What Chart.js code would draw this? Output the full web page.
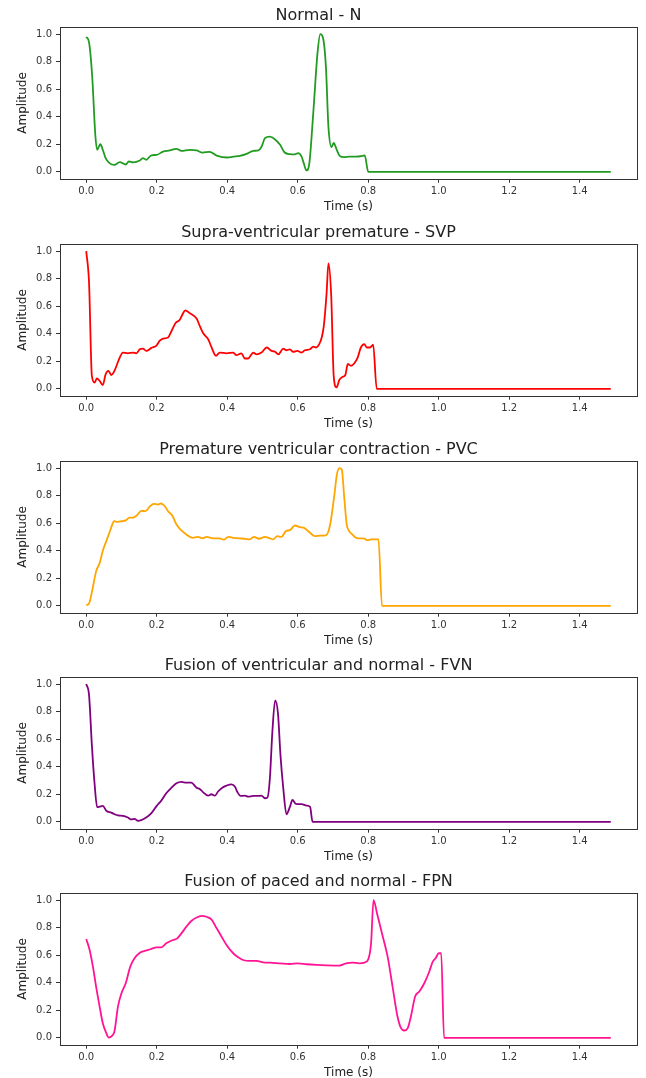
<!doctype html>
<html lang="en">

<head>
	<meta charset="utf-8" name="viewport" content="width=device-width, initial-scale=1">
	<title>Heartbeat classes</title>
	<style>
		* {
			margin: 0;
			padding: 0;
		}

		body {
			width: 646px;
			height: 1078px;
			overflow: hidden;
			background: white;
			position: relative;
			font-family: "DejaVu Sans", sans-serif;
		}

		.chartBox {
			position: absolute;
			left: 0;
			width: 646px;
			height: 216px;
		}
	</style>
</head>

<body>
	<div class="chartBox" style="top: 0px;"><canvas id="chartN"></canvas></div>
	<div class="chartBox" style="top: 217px;"><canvas id="chartSVP"></canvas></div>
	<div class="chartBox" style="top: 434px;"><canvas id="chartPVC"></canvas></div>
	<div class="chartBox" style="top: 650px;"><canvas id="chartFVN"></canvas></div>
	<div class="chartBox" style="top: 866px;"><canvas id="chartFPN"></canvas></div>

	<script src="https://cdn.jsdelivr.net/npm/chart.js"></script>

	<script>
		/*=====Data=====*/
		const xTicks = [0.0, 0.2, 0.4, 0.6, 0.8, 1.0, 1.2, 1.4];
		const yTicks = [0.0, 0.2, 0.4, 0.6, 0.8, 1.0];

		const nTime = [0, 0.008, 0.017, 0.026, 0.031, 0.04, 0.047, 0.055, 0.066, 0.08, 0.095, 0.112, 0.121, 0.133, 0.152, 0.161, 0.17, 0.185, 0.2, 0.218, 0.237, 0.256, 0.27, 0.294, 0.313, 0.33, 0.35, 0.37, 0.4, 0.417, 0.436, 0.455, 0.474, 0.488, 0.497, 0.507, 0.521, 0.535, 0.55, 0.563, 0.578, 0.592, 0.601, 0.611, 0.617, 0.625, 0.633, 0.644, 0.656, 0.664, 0.672, 0.68, 0.687, 0.696, 0.702, 0.71, 0.719, 0.732, 0.746, 0.765, 0.784, 0.79, 0.8, 1.488];
		const nAmp = [0.98, 0.94, 0.69, 0.26, 0.16, 0.20, 0.16, 0.10, 0.063, 0.05, 0.07, 0.053, 0.075, 0.068, 0.082, 0.10, 0.087, 0.12, 0.123, 0.147, 0.155, 0.167, 0.152, 0.16, 0.155, 0.14, 0.145, 0.118, 0.104, 0.11, 0.116, 0.13, 0.152, 0.155, 0.18, 0.244, 0.256, 0.237, 0.196, 0.14, 0.128, 0.126, 0.135, 0.11, 0.063, 0.01, 0.063, 0.425, 0.86, 1.0, 0.97, 0.76, 0.33, 0.18, 0.21, 0.164, 0.116, 0.106, 0.11, 0.11, 0.116, 0.12, 0, 0];

		const svpTime = [0, 0.008, 0.016, 0.024, 0.03, 0.038, 0.047, 0.055, 0.063, 0.071, 0.08, 0.095, 0.104, 0.118, 0.133, 0.142, 0.152, 0.161, 0.17, 0.185, 0.2, 0.208, 0.218, 0.232, 0.242, 0.254, 0.265, 0.273, 0.281, 0.294, 0.313, 0.322, 0.332, 0.346, 0.355, 0.368, 0.379, 0.398, 0.417, 0.426, 0.44, 0.45, 0.459, 0.474, 0.483, 0.497, 0.512, 0.526, 0.535, 0.545, 0.559, 0.568, 0.578, 0.587, 0.599, 0.611, 0.62, 0.635, 0.644, 0.652, 0.661, 0.668, 0.674, 0.682, 0.687, 0.695, 0.702, 0.71, 0.718, 0.727, 0.735, 0.742, 0.751, 0.76, 0.77, 0.779, 0.789, 0.796, 0.805, 0.814, 0.824, 1.488];
		const svpAmp = [1.0, 0.77, 0.094, 0.046, 0.075, 0.058, 0.027, 0.106, 0.13, 0.10, 0.13, 0.227, 0.263, 0.258, 0.263, 0.258, 0.287, 0.292, 0.275, 0.297, 0.316, 0.348, 0.365, 0.372, 0.42, 0.48, 0.50, 0.54, 0.57, 0.548, 0.51, 0.457, 0.403, 0.36, 0.304, 0.24, 0.263, 0.258, 0.263, 0.244, 0.258, 0.22, 0.22, 0.263, 0.25, 0.263, 0.30, 0.275, 0.27, 0.25, 0.292, 0.28, 0.287, 0.268, 0.275, 0.263, 0.28, 0.287, 0.307, 0.30, 0.324, 0.372, 0.457, 0.70, 0.91, 0.674, 0.094, 0.01, 0.065, 0.087, 0.10, 0.18, 0.167, 0.184, 0.227, 0.30, 0.324, 0.30, 0.30, 0.32, 0, 0];

		const pvcTime = [0, 0.008, 0.017, 0.028, 0.038, 0.047, 0.057, 0.069, 0.079, 0.09, 0.1, 0.112, 0.123, 0.133, 0.144, 0.156, 0.168, 0.18, 0.191, 0.204, 0.211, 0.223, 0.232, 0.244, 0.256, 0.27, 0.284, 0.301, 0.317, 0.33, 0.341, 0.36, 0.379, 0.39, 0.403, 0.417, 0.434, 0.45, 0.464, 0.476, 0.49, 0.507, 0.521, 0.53, 0.542, 0.554, 0.566, 0.578, 0.592, 0.606, 0.618, 0.63, 0.649, 0.663, 0.68, 0.692, 0.704, 0.711, 0.718, 0.725, 0.732, 0.739, 0.746, 0.755, 0.765, 0.774, 0.789, 0.798, 0.808, 0.829, 0.839, 1.488];
		const pvcAmp = [0.005, 0.017, 0.11, 0.25, 0.31, 0.40, 0.47, 0.554, 0.614, 0.61, 0.614, 0.62, 0.64, 0.64, 0.658, 0.69, 0.687, 0.72, 0.74, 0.735, 0.743, 0.723, 0.687, 0.655, 0.59, 0.547, 0.518, 0.494, 0.50, 0.49, 0.50, 0.49, 0.49, 0.48, 0.50, 0.494, 0.49, 0.487, 0.482, 0.50, 0.487, 0.50, 0.49, 0.482, 0.506, 0.50, 0.542, 0.55, 0.583, 0.571, 0.566, 0.542, 0.506, 0.51, 0.512, 0.59, 0.807, 0.952, 1.0, 0.988, 0.783, 0.59, 0.542, 0.518, 0.494, 0.49, 0.487, 0.477, 0.482, 0.482, 0, 0];

		const fvnTime = [0, 0.008, 0.016, 0.024, 0.031, 0.038, 0.047, 0.057, 0.071, 0.08, 0.09, 0.104, 0.118, 0.128, 0.137, 0.147, 0.156, 0.17, 0.185, 0.2, 0.213, 0.227, 0.242, 0.256, 0.27, 0.284, 0.298, 0.313, 0.322, 0.332, 0.346, 0.355, 0.365, 0.374, 0.386, 0.398, 0.412, 0.422, 0.428, 0.438, 0.45, 0.459, 0.474, 0.488, 0.497, 0.507, 0.514, 0.521, 0.528, 0.536, 0.544, 0.551, 0.559, 0.568, 0.578, 0.585, 0.595, 0.611, 0.625, 0.635, 0.642, 1.488];
		const fvnAmp = [1.0, 0.92, 0.557, 0.267, 0.106, 0.11, 0.116, 0.08, 0.067, 0.055, 0.046, 0.043, 0.031, 0.017, 0.022, 0.007, 0.012, 0.031, 0.063, 0.116, 0.154, 0.207, 0.248, 0.28, 0.29, 0.284, 0.284, 0.248, 0.239, 0.214, 0.19, 0.20, 0.19, 0.22, 0.248, 0.263, 0.272, 0.255, 0.22, 0.188, 0.19, 0.183, 0.188, 0.188, 0.19, 0.171, 0.176, 0.316, 0.653, 0.882, 0.786, 0.484, 0.243, 0.055, 0.11, 0.159, 0.13, 0.128, 0.118, 0.108, 0, 0];

		const fpnTime = [0, 0.0095, 0.019, 0.028, 0.038, 0.047, 0.057, 0.064, 0.073, 0.08, 0.09, 0.1, 0.112, 0.125, 0.137, 0.152, 0.168, 0.182, 0.2, 0.213, 0.227, 0.246, 0.258, 0.27, 0.284, 0.298, 0.313, 0.327, 0.341, 0.355, 0.37, 0.384, 0.398, 0.417, 0.431, 0.445, 0.464, 0.483, 0.502, 0.521, 0.549, 0.578, 0.601, 0.625, 0.654, 0.682, 0.718, 0.737, 0.756, 0.774, 0.789, 0.8, 0.808, 0.815, 0.825, 0.839, 0.855, 0.869, 0.883, 0.893, 0.902, 0.912, 0.921, 0.933, 0.945, 0.959, 0.973, 0.983, 0.992, 1.0, 1.007, 1.015, 1.488];
		const fpnAmp = [0.717, 0.64, 0.517, 0.372, 0.227, 0.106, 0.034, 0.002, 0.014, 0.046, 0.227, 0.324, 0.396, 0.517, 0.577, 0.618, 0.633, 0.643, 0.657, 0.657, 0.686, 0.71, 0.722, 0.758, 0.807, 0.848, 0.874, 0.886, 0.879, 0.86, 0.795, 0.734, 0.674, 0.614, 0.585, 0.565, 0.558, 0.558, 0.548, 0.546, 0.541, 0.536, 0.541, 0.534, 0.529, 0.526, 0.524, 0.541, 0.546, 0.541, 0.546, 0.57, 0.686, 1.0, 0.903, 0.758, 0.589, 0.372, 0.155, 0.07, 0.053, 0.07, 0.155, 0.30, 0.336, 0.396, 0.48, 0.553, 0.582, 0.614, 0.614, 0, 0];
		/*=====End Data=====*/

		/*=====Frame around the plot area=====*/
		const frameBox = {
			id: 'frameBox',
			afterDraw: (chart) => {
				const {ctx, chartArea: {left, right, top, bottom}} = chart;
				ctx.save();
				ctx.strokeStyle = '#333';
				ctx.lineWidth = 1;
				ctx.strokeRect(Math.round(left) + 0.5, Math.round(top) + 0.5, Math.round(right - left), Math.round(bottom - top));
				ctx.restore();
			}
		};

		function makeChart(id, title, time, amp, color) {
			const points = time.map((t, i) => ({x: t, y: amp[i]}));
			return new Chart(document.getElementById(id), {
				type: 'line',
				data: {
					datasets: [{
						data: points,
						borderColor: color,
						borderWidth: 1.8,
						pointRadius: 0,
						cubicInterpolationMode: 'monotone',
						fill: false
					}]
				},
				options: {
					responsive: true,
					maintainAspectRatio: false,
					animation: false,
					layout: {padding: {left: 0, right: 9, top: 0, bottom: 0}},
					plugins: {
						legend: {display: false},
						tooltip: {enabled: false},
						title: {
							display: true,
							text: title,
							color: '#222',
							font: {family: 'DejaVu Sans', size: 16, weight: 'normal'},
							padding: {top: 6.5, bottom: 1.5}
						}
					},
					scales: {
						x: {
							type: 'linear',
							min: -0.0744,
							max: 1.5624,
							afterFit: (s) => { s.height = 37.3; },
							afterBuildTicks: (s) => { s.ticks = xTicks.map(v => ({value: v})); },
							border: {display: false},
							grid: {drawOnChartArea: false, drawTicks: true, tickLength: 4, color: '#333'},
							ticks: {
								color: '#333',
								padding: 3,
								maxRotation: 0,
								font: {family: 'DejaVu Sans', size: 10},
								callback: (v) => v.toFixed(1)
							},
							title: {
								display: true,
								text: 'Time (s)',
								color: '#222',
								font: {family: 'DejaVu Sans', size: 12},
								padding: {top: 0, bottom: 2.3}
							}
						},
						y: {
							min: -0.05,
							max: 1.05,
							afterFit: (s) => { s.width = 60; },
							afterBuildTicks: (s) => { s.ticks = yTicks.map(v => ({value: v})); },
							border: {display: false},
							grid: {drawOnChartArea: false, drawTicks: true, tickLength: 4, color: '#333'},
							ticks: {
								color: '#333',
								padding: 4,
								font: {family: 'DejaVu Sans', size: 10},
								callback: (v) => v.toFixed(1)
							},
							title: {
								display: true,
								text: 'Amplitude',
								color: '#222',
								font: {family: 'DejaVu Sans', size: 12},
								padding: {top: 15.3, bottom: 0}
							}
						}
					}
				},
				plugins: [frameBox]
			});
		}

		makeChart('chartN', 'Normal - N', nTime, nAmp, '#229b22');
		makeChart('chartSVP', 'Supra-ventricular premature - SVP', svpTime, svpAmp, '#ff0000');
		makeChart('chartPVC', 'Premature ventricular contraction - PVC', pvcTime, pvcAmp, '#ffa500');
		makeChart('chartFVN', 'Fusion of ventricular and normal - FVN', fvnTime, fvnAmp, '#800080');
		makeChart('chartFPN', 'Fusion of paced and normal - FPN', fpnTime, fpnAmp, '#ff1493');
	</script>
</body>

</html>
